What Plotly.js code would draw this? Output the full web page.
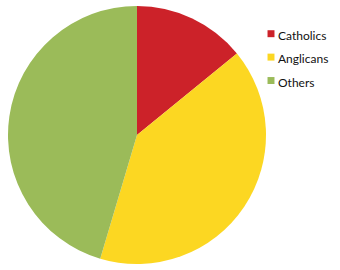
<!DOCTYPE html>
<html><head><meta charset="utf-8">
<script src="https://cdn.plot.ly/plotly-3.0.1.min.js"></script>
<style>
html,body{margin:0;padding:0;background:#fff}
#chart .legend path.legendpie{transform:translate(33px,0px) scale(0.58)}
</style>
</head><body>
<div id="chart" style="width:340px;height:270px"></div>
<script>
var categories = ["Catholics", "Anglicans", "Others"];
var shares = [14.1, 40.5, 45.4];
var colors = ["#CC2229", "#FCD722", "#9BBB59"];

var legendLabels = categories.map(function (c) {
  return '<span style="font-size:12px">' + c + '</span>';
});

var data = [{
  type: "pie",
  labels: legendLabels,
  values: shares,
  sort: false,
  direction: "clockwise",
  rotation: 0,
  textinfo: "none",
  hoverinfo: "none",
  marker: {colors: colors, line: {width: 0}},
  domain: {x: [8/340, 266/340], y: [6/270, 264/270]}
}];
var layout = {
  width: 340, height: 270,
  margin: {l: 0, r: 0, t: 0, b: 0, pad: 0, autoexpand: false},
  paper_bgcolor: "#fff",
  showlegend: true,
  legend: {x: 238/340, y: 1 - 17/270, xanchor: "left", yanchor: "top",
    font: {family: "Lato, 'Open Sans', sans-serif", size: 15.7, color: "#111"},
    bgcolor: "rgba(0,0,0,0)", borderwidth: 0}
};
Plotly.newPlot("chart", data, layout, {displayModeBar: false, staticPlot: true});
</script>
</body></html>
